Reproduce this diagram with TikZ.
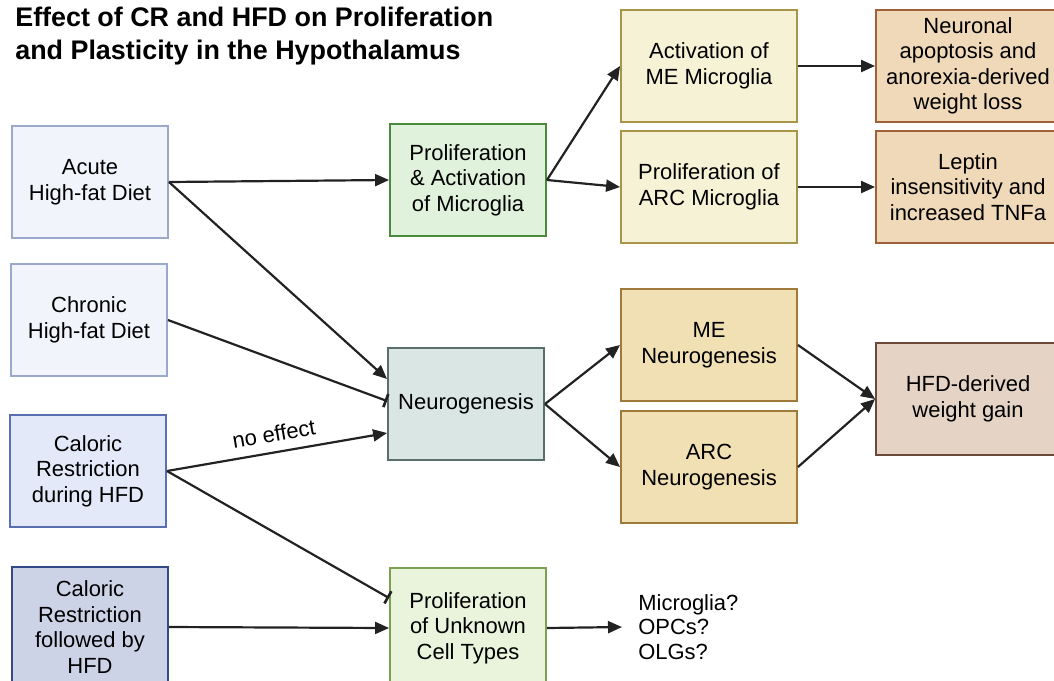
\documentclass[tikz,border=0pt]{standalone}
\usepackage{fontspec}
\setmainfont{Liberation Sans}
\usetikzlibrary{positioning,arrows.meta}

\definecolor{acuteFill}{HTML}{F1F4FA}
\definecolor{acuteDraw}{HTML}{9AA9CB}
\definecolor{crdFill}{HTML}{E3E9F9}
\definecolor{crdDraw}{HTML}{5A6FB0}
\definecolor{crfFill}{HTML}{CDD3E7}
\definecolor{crfDraw}{HTML}{344A86}
\definecolor{micFill}{HTML}{E0F2DC}
\definecolor{micDraw}{HTML}{4A8A3A}
\definecolor{neuFill}{HTML}{D9E6E4}
\definecolor{neuDraw}{HTML}{5A6F6C}
\definecolor{unkFill}{HTML}{EAF4DC}
\definecolor{unkDraw}{HTML}{7AA050}
\definecolor{yelFill}{HTML}{F5F2D6}
\definecolor{yelDraw}{HTML}{A8954A}
\definecolor{ochFill}{HTML}{F1E0B4}
\definecolor{ochDraw}{HTML}{A07A3A}
\definecolor{tanFill}{HTML}{EFD9B8}
\definecolor{tanDraw}{HTML}{A0603A}
\definecolor{brnFill}{HTML}{E5D4C6}
\definecolor{brnDraw}{HTML}{6B4A3A}
\definecolor{lineCol}{HTML}{222222}

\begin{document}
\begin{tikzpicture}[x=0.02cm, y=-0.02cm,
  box/.style={rectangle, draw, line width=1.1pt, minimum width=3.12cm, minimum height=2.24cm, align=center, font=\fontsize{12.5}{14.5}\selectfont},
  widebox/.style={box, minimum width=3.52cm},
  outbox/.style={box, minimum width=3.68cm},
  arr/.style={draw=lineCol, line width=1.25pt, -{Triangle[length=0.28cm,width=0.24cm]}},
  tee/.style={draw=lineCol, line width=1.25pt, -{Bar[width=0.28cm,line width=1.5pt]}}]
\useasboundingbox (0,0) rectangle (1054,680);

\node (title) [anchor=north west, align=left, inner sep=0pt, font=\fontsize{15.3}{18.5}\selectfont\bfseries] at (15,7) {Effect of CR and HFD on Proliferation\\and Plasticity in the Hypothalamus};

% left column
\node (acute) [box, fill=acuteFill, draw=acuteDraw] at (90,182) {Acute\\High-fat Diet};
\node (chronic) [box, fill=acuteFill, draw=acuteDraw] at (89,320) {Chronic\\High-fat Diet};
\node (crdur) [box, fill=crdFill, draw=crdDraw] at (88,471) {Caloric\\Restriction\\during HFD};
\node (crfol) [box, fill=crfFill, draw=crfDraw, minimum height=2.4cm] at (90,627) {Caloric\\Restriction\\followed by\\HFD};

% middle column
\node (prolact) [box, fill=micFill, draw=micDraw] at (468,180) {Proliferation\\\& Activation\\of Microglia};
\node (neuro) [box, fill=neuFill, draw=neuDraw] at (466,404) {Neurogenesis};
\node (unknown) [box, fill=unkFill, draw=unkDraw, minimum height=2.4cm] at (468,628) {Proliferation\\of Unknown\\Cell Types};

% regions
\node (actme) [widebox, fill=yelFill, draw=yelDraw] at (709,66) {Activation of\\ME Microglia};
\node (prolarc) [widebox, fill=yelFill, draw=yelDraw] at (709,187) {Proliferation of\\ARC Microglia};
\node (meneuro) [widebox, fill=ochFill, draw=ochDraw] at (709,345) {ME\\Neurogenesis};
\node (arcneuro) [widebox, fill=ochFill, draw=ochDraw] at (709,467) {ARC\\Neurogenesis};

% outcomes
\node (apopt) [outbox, fill=tanFill, draw=tanDraw] at (968,66) {Neuronal\\apoptosis and\\anorexia-derived\\weight loss};
\node (leptin) [outbox, fill=tanFill, draw=tanDraw] at (968,187) {Leptin\\insensitivity and\\increased TNFa};
\node (gain) [outbox, fill=brnFill, draw=brnDraw] at (968,399) {HFD-derived\\weight gain};

\node (cells) [anchor=west, align=left, inner xsep=0.32cm, inner ysep=0pt, font=\fontsize{12.5}{14}\selectfont] at (622,627) {Microglia?\\OPCs?\\OLGs?};

% connectors
\draw [arr] (acute.east) -- (prolact.west);
\draw [arr] (acute.east) -- ([yshift=0.5cm]neuro.west);
\draw [tee] (chronic.east) -- ([yshift=0.06cm]neuro.west);
\draw [arr] (crdur.east) -- node[midway, above=2pt, sloped, font=\fontsize{12.5}{14}\selectfont] {no effect} ([yshift=-0.58cm]neuro.west);
\draw [tee] (crdur.east) -- ([yshift=0.6cm]unknown.west);
\draw [arr] (crfol.east) -- (unknown.west);

\draw [arr] (prolact.east) -- (actme.west);
\draw [arr] (prolact.east) -- (prolarc.west);
\draw [arr] (neuro.east) -- (meneuro.west);
\draw [arr] (neuro.east) -- (arcneuro.west);
\draw [arr] (unknown.east) -- (cells.west);

\draw [arr] (actme.east) -- (apopt.west);
\draw [arr] (prolarc.east) -- (leptin.west);
\draw [arr] (meneuro.east) -- (gain.west);
\draw [arr] (arcneuro.east) -- (gain.west);
\end{tikzpicture}
\end{document}
